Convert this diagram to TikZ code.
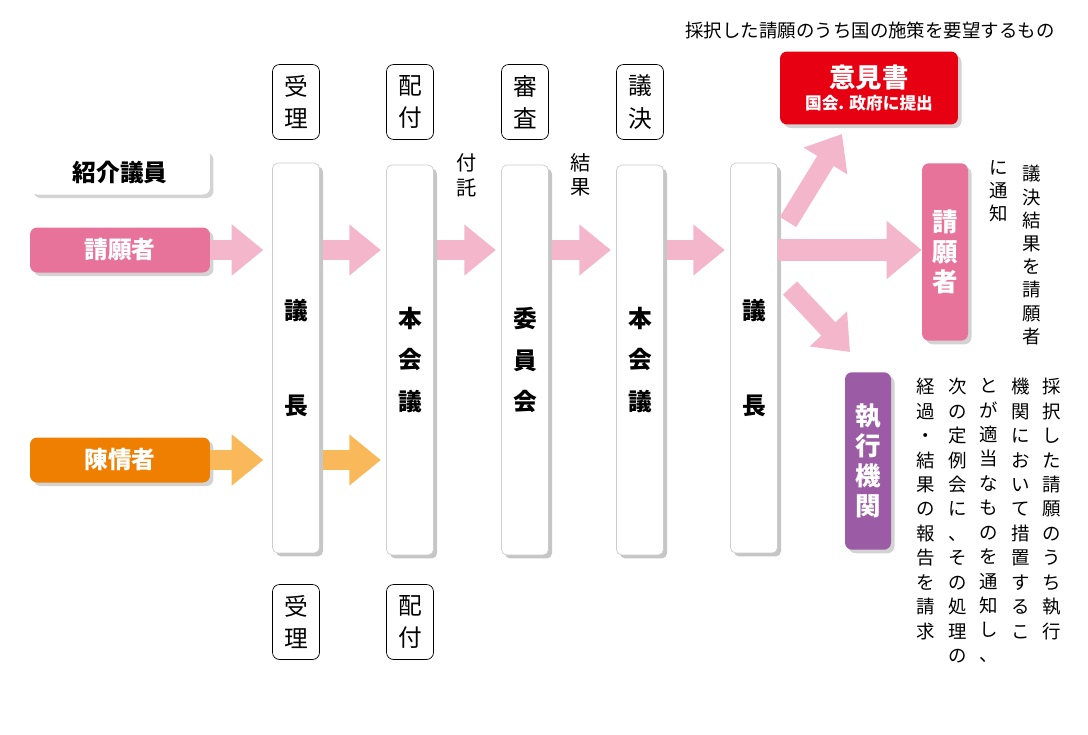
\documentclass[tikz,border=0pt]{standalone}
\usepackage{fontspec}
\setmainfont{Noto Sans CJK JP}
\usetikzlibrary{arrows.meta,shadows}
\definecolor{pinkbox}{HTML}{E8739A}
\definecolor{pinkarr}{HTML}{F4B6CB}
\definecolor{orgbox}{HTML}{EE7F00}
\definecolor{orgarr}{HTML}{F9B95A}
\definecolor{redbox}{HTML}{E60012}
\definecolor{purbox}{HTML}{9B5BA5}
\tikzset{
  col/.style={draw=gray!40,fill=white,rounded corners=3pt,minimum width=0.94cm,minimum height=7.8cm,
    drop shadow={opacity=0.45,shadow xshift=2pt,shadow yshift=-2pt},align=center,
    font=\bfseries\fontsize{13.5}{23.5}\selectfont,inner sep=0pt},
  tag/.style={draw,rounded corners=4pt,fill=white,minimum width=0.94cm,minimum height=1.5cm,align=center,
    font=\fontsize{13.5}{18.5}\selectfont,inner sep=0pt},
  who/.style={rounded corners=4pt,minimum width=3.6cm,minimum height=0.9cm,text=white,
    drop shadow={opacity=0.35,shadow xshift=2pt,shadow yshift=-2pt},font=\bfseries\fontsize{13.5}{15}\selectfont},
  vbox/.style={rounded corners=4pt,minimum width=0.92cm,text=white,align=center,inner sep=0pt,
    drop shadow={opacity=0.35,shadow xshift=2pt,shadow yshift=-2pt},font=\bfseries\fontsize{14.5}{17}\selectfont},
  vtext/.style={align=center,anchor=north,inner sep=0pt,font=\fontsize{10.5}{13.2}\selectfont},
  parrow/.style={draw=pinkarr,line width=11pt,-{Triangle[length=18pt,width=28pt]}},
  oarrow/.style={draw=orgarr,line width=11pt,-{Triangle[length=18pt,width=28pt]}},
}
\begin{document}
\begin{tikzpicture}[x=0.02cm,y=-0.02cm]
\useasboundingbox (0,0) rectangle (1088,734);
% top note
\node[font=\fontsize{10.5}{12}\selectfont] (note) at (870,30) {採択した請願のうち国の施策を要望するもの};
% left boxes
\node[who,fill=white,text=black] (intro) at (120,172) {紹介議員};
\node[who,fill=pinkbox] (req) at (120,250) {請願者};
\node[who,fill=orgbox] (chin) at (120,460) {陳情者};
% columns
\node[col] (c1) at (296,358) {議\\[31pt]長};
\node[col] (c2) at (410,360) {本\\会\\議};
\node[col] (c3) at (525,360) {委\\員\\会};
\node[col] (c4) at (640,360) {本\\会\\議};
\node[col] (c5) at (754,358) {議\\[31pt]長};
% tags
\node[tag] (t1) at (296,102) {受\\理};
\node[tag] (t2) at (410,102) {配\\付};
\node[tag] (t3) at (525,102) {審\\査};
\node[tag] (t4) at (640,102) {議\\決};
\node[tag] (b1) at (296,622) {受\\理};
\node[tag] (b2) at (410,622) {配\\付};
\node[align=center,font=\fontsize{11.5}{14}\selectfont] (futaku) at (467,175) {付\\託};
\node[align=center,font=\fontsize{11.5}{14}\selectfont] (kekka) at (581,175) {結\\果};
% right boxes
\node[fill=redbox,rounded corners=4pt,minimum width=3.56cm,minimum height=1.46cm,text=white,align=center,
  inner sep=0pt,drop shadow={opacity=0.35,shadow xshift=2pt,shadow yshift=-2pt}] (iken) at (869,88)
  {{\bfseries\fontsize{15}{18}\selectfont 意見書}\\[1pt]{\bfseries\fontsize{9.5}{11}\selectfont 国会. 政府に提出}};
\node[vbox,fill=pinkbox,minimum height=3.55cm] (req2) at (945,252) {請\\願\\者};
\node[vbox,fill=purbox,minimum height=3.55cm] (exec) at (868,461) {執\\行\\機\\関};
% notes
\node[vtext] (n1) at (1032,165) {議\\決\\結\\果\\を\\請\\願\\者};
\node[vtext] (n2) at (999,160) {に\\通\\知};
\node[vtext,font=\fontsize{10.5}{13.9}\selectfont] (m1) at (1052,378) {採\\択\\し\\た\\請\\願\\の\\う\\ち\\執\\行};
\node[vtext,font=\fontsize{10.5}{13.9}\selectfont] (m2) at (1021,378) {機\\関\\に\\お\\い\\て\\措\\置\\す\\る\\こ};
\node[vtext,font=\fontsize{10.5}{13.9}\selectfont] (m3) at (989,378) {と\\が\\適\\当\\な\\も\\の\\を\\通\\知\\し\\、};
\node[vtext,font=\fontsize{10.5}{13.9}\selectfont] (m4) at (958,378) {次\\の\\定\\例\\会\\に\\、\\そ\\の\\処\\理\\の};
\node[vtext,font=\fontsize{10.5}{13.9}\selectfont] (m5) at (926,378) {経\\過\\・\\結\\果\\の\\報\\告\\を\\請\\求};
% arrows
\draw[parrow,shorten >=5pt] (req) -- (c1.west |- req);
\foreach \a/\b in {c1/c2,c2/c3,c3/c4,c4/c5}
  \draw[parrow,shorten <=2pt,shorten >=3pt] (\a.east |- req) -- (\b.west |- req);
\draw[oarrow,shorten >=5pt] (chin) -- (c1.west |- chin);
\draw[oarrow,shorten <=2pt,shorten >=3pt] (c1.east |- chin) -- (c2.west |- chin);
\coordinate (up0) at (788,222);
\coordinate (dn0) at (790,288);
\draw[draw=pinkarr,line width=12pt,-{Triangle[length=20pt,width=32pt]}] (c5.east |- req) -- (req2.west |- req);
\draw[parrow] (up0) -- (842,134);
\draw[parrow] (dn0) -- (850,352);
\end{tikzpicture}
\end{document}
